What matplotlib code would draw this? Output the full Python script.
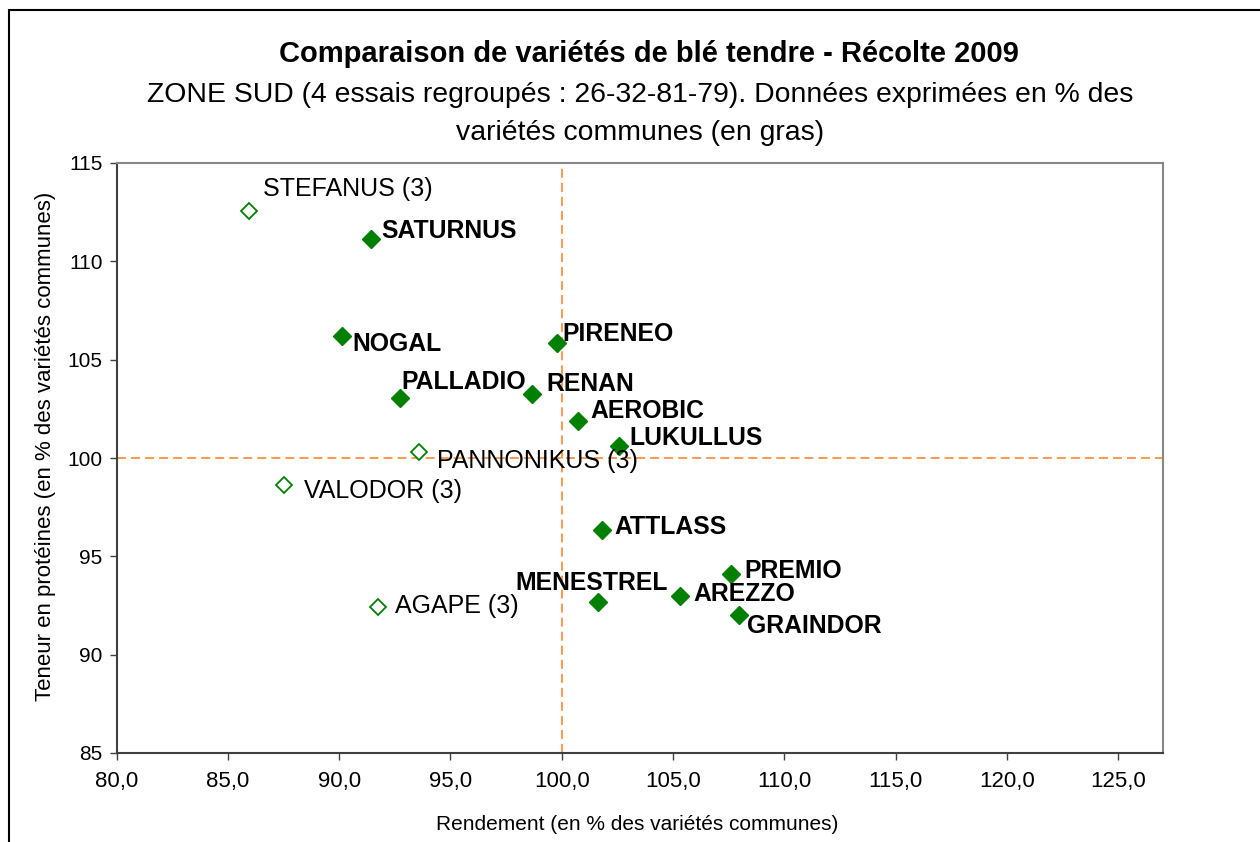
import matplotlib
matplotlib.use('Agg')
import matplotlib.pyplot as plt
from matplotlib.patches import Rectangle
from matplotlib.ticker import FuncFormatter

# ---------------- data ----------------
names = ["STEFANUS (3)", "SATURNUS", "NOGAL", "PIRENEO", "PALLADIO", "RENAN",
         "AEROBIC", "LUKULLUS", "PANNONIKUS (3)", "VALODOR (3)", "ATTLASS",
         "MENESTREL", "AREZZO", "PREMIO", "GRAINDOR", "AGAPE (3)"]
rendement = [85.95, 91.41, 90.11, 99.77, 92.73, 98.64,
             100.74, 102.56, 93.58, 87.52, 101.79,
             101.61, 105.33, 107.62, 107.95, 91.74]
proteines = [112.57, 111.14, 106.22, 105.83, 103.04, 103.26,
             101.88, 100.61, 100.29, 98.63, 96.34,
             92.70, 92.99, 94.11, 92.02, 92.43]
commune = [False, True, True, True, True, True,
           True, True, False, False, True,
           True, True, True, True, False]

x_ticks = [80, 85, 90, 95, 100, 105, 110, 115, 120, 125]
y_ticks = [85, 90, 95, 100, 105, 110, 115]
reference = 100

title = "Comparaison de variétés de blé tendre - Récolte 2009"
subtitle = ("ZONE SUD (4 essais regroupés : 26-32-81-79). Données exprimées en % des\n"
            "variétés communes (en gras)")
xlabel = "Rendement (en % des variétés communes)"
ylabel = "Teneur en protéines (en % des variétés communes)"

# label offsets (pixels, relative to marker, text vertical centre)
label_offsets = {
    "STEFANUS (3)": (14, 23.5), "SATURNUS": (11, 10), "NOGAL": (11, -6),
    "PIRENEO": (5.6, 11), "PALLADIO": (1, 18), "RENAN": (15, 11.5),
    "AEROBIC": (12.3, 12), "LUKULLUS": (11, 10), "PANNONIKUS (3)": (18.3, -6.7),
    "VALODOR (3)": (20, -4), "ATTLASS": (13, 4.5), "MENESTREL": (-82, 20),
    "AREZZO": (13, 3.5), "PREMIO": (13, 5), "GRAINDOR": (7.7, -9),
    "AGAPE (3)": (17, 3),
}

# ---------------- style ----------------
plt.rcParams['font.family'] = ['Liberation Sans', 'DejaVu Sans']
plt.rcParams['lines.scale_dashes'] = False
W, H, DPI = 1260, 842, 100
GREEN = '#008000'
ORANGE = '#FF7F1E'

fig = plt.figure(figsize=(W / DPI, H / DPI), dpi=DPI)
fig.patch.set_facecolor('white')

left, right, top, bottom = 116.5, 1163, 163, 753
ax = fig.add_axes([left / W, 1 - bottom / H, (right - left) / W, (bottom - top) / H])

# reference lines
ax.axhline(reference, color=ORANGE, lw=1.1, dashes=(6.5, 3.6), zorder=1)
ax.axvline(reference, color=ORANGE, lw=1.1, dashes=(6.5, 3.6), zorder=1)

# points
for n, xv, yv, c in zip(names, rendement, proteines, commune):
    if c:
        ax.plot([xv], [yv], marker='D', ms=8.7, color=GREEN, mec=GREEN,
                ls='none', zorder=3)
    else:
        ax.plot([xv], [yv], marker='D', ms=8.4, mfc='white', mec=GREEN,
                mew=1.3, ls='none', zorder=3)

# labels
BOLD_FS, REG_FS = 17.8, 18.0
for n, xv, yv, c in zip(names, rendement, proteines, commune):
    dx, dy = label_offsets[n]
    fs = BOLD_FS if c else REG_FS
    cap_half = 0.716 * fs * DPI / 72 / 2
    ax.annotate(n, (xv, yv), xytext=(dx, dy - cap_half), textcoords='offset pixels',
                ha='left', va='baseline', fontsize=fs,
                fontweight='bold' if c else 'normal', color='black', zorder=4)

ax.set_xlim(80, 127)
ax.set_ylim(85, 115)
ax.set_xticks(x_ticks)
ax.set_yticks(y_ticks)
ax.xaxis.set_major_formatter(FuncFormatter(lambda v, p: f"{v:.1f}".replace('.', ',')))
ax.yaxis.set_major_formatter(FuncFormatter(lambda v, p: f"{v:.0f}"))
ax.tick_params(axis='x', direction='out', length=5, width=1, labelsize=16, pad=8,
               color='#404040')
ax.tick_params(axis='y', direction='out', length=5, width=1, labelsize=15, pad=5,
               color='#404040')

for s in ['top', 'right']:
    ax.spines[s].set_color('#888888')
    ax.spines[s].set_linewidth(1.5)
for s in ['left', 'bottom']:
    ax.spines[s].set_color('#404040')
    ax.spines[s].set_linewidth(1.5)

ax.set_xlabel(xlabel, fontsize=15)
ax.set_ylabel(ylabel, fontsize=16)
ax.xaxis.set_label_coords(0.498, -0.105)
ax.yaxis.set_label_coords(-0.058, 0.519)

# titles
fig.text(649 / W, 1 - 61.5 / H, title, ha='center', va='baseline',
         fontsize=21, fontweight='bold')
sub_lines = subtitle.split('\n')
fig.text(640 / W, 1 - 102.5 / H, sub_lines[0], ha='center', va='baseline',
         fontsize=20.4)
fig.text(640 / W, 1 - 139.5 / H, sub_lines[1], ha='center', va='baseline',
         fontsize=20.4)

# outer chart frame
fig.add_artist(Rectangle((9 / W, -0.2), 1.5, 1.2 - 10 / H, transform=fig.transFigure,
                         fill=False, edgecolor='black', lw=1.5))

fig.savefig('out.png', dpi=DPI)
